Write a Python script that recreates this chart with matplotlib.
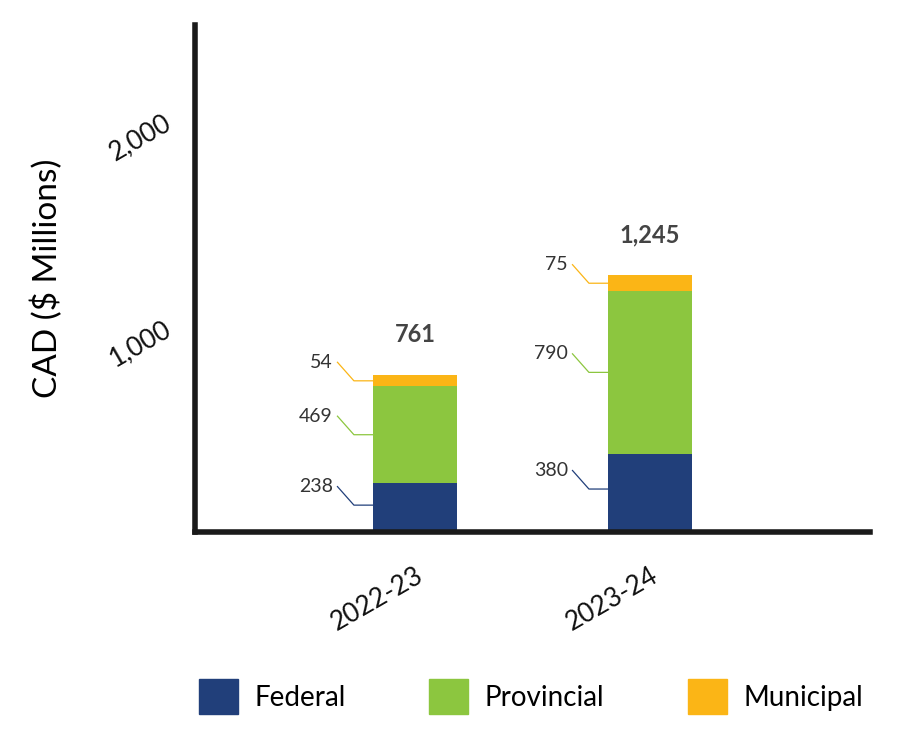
import matplotlib
matplotlib.use("Agg")
import matplotlib.pyplot as plt
from matplotlib.patches import Patch

plt.rcParams['font.family'] = ['Lato', 'DejaVu Sans']

years = ["2022-23", "2023-24"]
federal = [238, 380]
provincial = [469, 790]
municipal = [54, 75]
totals = ["761", "1,245"]
series_names = ["Federal", "Provincial", "Municipal"]
colors = ["#213f7a", "#8cc63f", "#fbb516"]
yticks = [1000, 2000]
ytick_labels = ["1,000", "2,000"]

fig = plt.figure(figsize=(9, 7.37), dpi=100)
ax = fig.add_axes([0.2167, 0.278, 0.75, 0.688])
x = list(range(len(years)))
w = 0.36
ax.bar(x, federal, w, color=colors[0])
ax.bar(x, provincial, w, bottom=federal, color=colors[1])
b2 = [f + p for f, p in zip(federal, provincial)]
ax.bar(x, municipal, w, bottom=b2, color=colors[2])

for i in x:
    bottoms = [0, federal[i], b2[i]]
    vals = [federal[i], provincial[i], municipal[i]]
    for j in range(3):
        ymid = bottoms[j] + vals[j] / 2
        if j == 0:
            ymid = bottoms[j] + vals[j] * 0.55
        xl = i - w / 2
        ax.plot([xl, xl - 0.08, xl - 0.15], [ymid, ymid, ymid + 90],
                color=colors[j], lw=0.9, clip_on=False)
        ax.text(xl - 0.17, ymid + 90, str(vals[j]), ha='right', va='center',
                fontsize=14, color='#333333')
    top = b2[i] + municipal[i]
    ax.text(i, top + 140, totals[i], ha='center', va='bottom', fontsize=17,
            fontweight='bold', color='#444444')

ax.set_xlim(-0.936, 1.936)
ax.set_ylim(0, 2460)
ax.set_yticks(yticks)
ax.set_yticklabels(ytick_labels, rotation=30, fontsize=19, color='#111111')
ax.set_xticks(x)
ax.set_xticklabels(years, rotation=30, fontsize=19, color='#111111',
                   ha='right', rotation_mode='anchor')
ax.tick_params(axis='x', length=0, pad=22)
ax.tick_params(axis='y', length=0, pad=14)
for s in ['top', 'right']:
    ax.spines[s].set_visible(False)
for s in ['left', 'bottom']:
    ax.spines[s].set_linewidth(4)
    ax.spines[s].set_color('#1a1a1a')
ax.set_ylabel("CAD ($ Millions)", fontsize=24, labelpad=30)

handles = [Patch(color=c) for c in colors]
fig.legend(handles, series_names, loc='center', bbox_to_anchor=(0.59, 0.055),
           ncol=3, frameon=False, fontsize=20, handlelength=1.4, handleheight=1.6,
           columnspacing=3.0, handletextpad=0.6)
fig.savefig("out.png", dpi=100)
